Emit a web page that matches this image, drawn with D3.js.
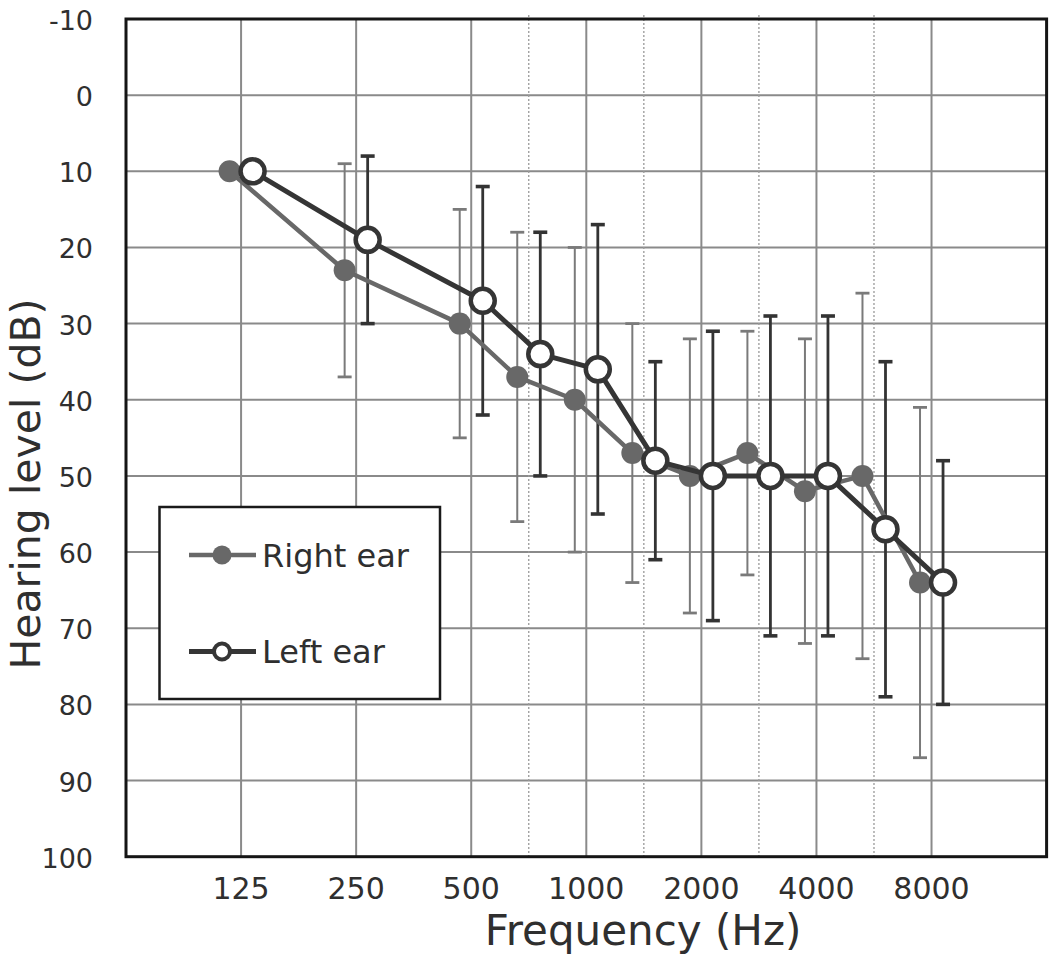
<!DOCTYPE html>
<html>
<head>
<meta charset="utf-8">
<script src="https://cdn.jsdelivr.net/npm/d3@7"></script>
<style>
  html, body { margin: 0; padding: 0; background: #fff; }
  svg { display: block; font-family: "DejaVu Sans", sans-serif; }
</style>
</head>
<body>
<svg id="chart" width="1050" height="961"></svg>
<script>
// ---- data ----
const frequencies = [125, 250, 500, 750, 1000, 1500, 2000, 3000, 4000, 6000, 8000];
const rightMean = [10, 23, 30, 37, 40, 47, 50, 47, 52, 50, 64];
const rightUpper = [null, 9, 15, 18, 20, 30, 32, 31, 32, 26, 41];
const rightLower = [null, 37, 45, 56, 60, 64, 68, 63, 72, 74, 87];
const leftMean = [10, 19, 27, 34, 36, 48, 50, 50, 50, 57, 64];
const leftUpper = [null, 8, 12, 18, 17, 35, 31, 29, 29, 35, 48];
const leftLower = [null, 30, 42, 50, 55, 61, 69, 71, 71, 79, 80];
const majorFreqs = [125, 250, 500, 1000, 2000, 4000, 8000];
const xTickLabels = ["125", "250", "500", "1000", "2000", "4000", "8000"];
const minorFreqs = [750, 1500, 3000, 6000];
const yTicks = [-10, 0, 10, 20, 30, 40, 50, 60, 70, 80, 90, 100];
const seriesNames = ["Right ear", "Left ear"];

// ---- layout ----
const svg = d3.select("#chart");
const L = 126, R = 1046.6, T = 19, B = 856.7;
const octave = f => Math.round(2 * Math.log2(f / 125)) / 2;
const x = d3.scaleLinear().domain([-1, 7]).range([L, R]);
const y = d3.scaleLinear().domain([-10, 100]).range([T, B]);

const gridColor = "#8a8a8a";
const textColor = "#2f2f2f";
const rightColor = "#686868";
const leftColor = "#353535";

// grid
const grid = svg.append("g");
grid.selectAll("line.h").data(yTicks.slice(1, -1)).join("line")
  .attr("x1", L).attr("x2", R).attr("y1", d => y(d)).attr("y2", d => y(d))
  .attr("stroke", gridColor).attr("stroke-width", 2);
grid.selectAll("line.v").data(majorFreqs).join("line")
  .attr("x1", d => x(octave(d))).attr("x2", d => x(octave(d)))
  .attr("y1", T).attr("y2", B)
  .attr("stroke", gridColor).attr("stroke-width", 2);
grid.selectAll("line.m").data(minorFreqs).join("line")
  .attr("x1", d => x(octave(d))).attr("x2", d => x(octave(d)))
  .attr("y1", T - 4).attr("y2", B)
  .attr("stroke", "#999").attr("stroke-width", 1.3).attr("stroke-dasharray", "2,2");

// border
svg.append("rect").attr("x", L).attr("y", T).attr("width", R - L).attr("height", B - T)
  .attr("fill", "none").attr("stroke", "#151515").attr("stroke-width", 3);

// y axis labels
svg.append("g").selectAll("text").data(yTicks).join("text")
  .attr("x", 93).attr("y", d => y(d) + 11)
  .attr("text-anchor", "end").attr("font-size", 27).attr("fill", textColor)
  .text(d => d);

// x axis labels
svg.append("g").selectAll("text").data(majorFreqs).join("text")
  .attr("x", d => x(octave(d))).attr("y", 899)
  .attr("text-anchor", "middle").attr("font-size", 30).attr("fill", textColor)
  .text((d, i) => xTickLabels[i]);

// titles
svg.append("text").attr("x", 643).attr("y", 945)
  .attr("text-anchor", "middle").attr("font-size", 42).attr("fill", textColor)
  .text("Frequency (Hz)");
svg.append("text").attr("transform", "translate(40,484) rotate(-90)")
  .attr("text-anchor", "middle").attr("font-size", 41).attr("fill", textColor)
  .text("Hearing level (dB)");

// series
const series = [
  { name: seriesNames[0], mean: rightMean, up: rightUpper, low: rightLower, shift: -0.1,
    color: rightColor, ebColor: "#7a7a7a", ebWidth: 2, lineWidth: 4.5, filled: true },
  { name: seriesNames[1], mean: leftMean, up: leftUpper, low: leftLower, shift: 0.1,
    color: leftColor, ebColor: "#333", ebWidth: 2.8, lineWidth: 5, filled: false }
];

// error bars
series.forEach(s => {
  const g = svg.append("g");
  const pts = frequencies.map((f, i) => ({ f, i })).filter(d => s.up[d.i] != null);
  const px = d => x(octave(d.f) + s.shift);
  g.selectAll("line.v").data(pts).join("line")
    .attr("x1", px).attr("x2", px)
    .attr("y1", d => y(s.up[d.i])).attr("y2", d => y(s.low[d.i]))
    .attr("stroke", s.ebColor).attr("stroke-width", s.ebWidth);
  ["up", "low"].forEach(k => {
    g.selectAll("line.c" + k).data(pts).join("line")
      .attr("x1", d => px(d) - 7).attr("x2", d => px(d) + 7)
      .attr("y1", d => y(s[k][d.i])).attr("y2", d => y(s[k][d.i]))
      .attr("stroke", s.ebColor).attr("stroke-width", s.ebWidth + 0.8);
  });
});

// lines and markers
series.forEach(s => {
  const data = frequencies.map((f, i) => ({ f, v: s.mean[i] }));
  const line = d3.line().x(d => x(octave(d.f) + s.shift)).y(d => y(d.v));
  svg.append("path").datum(data).attr("d", line)
    .attr("fill", "none").attr("stroke", s.color).attr("stroke-width", s.lineWidth)
    .attr("stroke-linejoin", "round");
  svg.append("g").selectAll("circle").data(data).join("circle")
    .attr("cx", d => x(octave(d.f) + s.shift)).attr("cy", d => y(d.v))
    .attr("r", s.filled ? 11 : 12)
    .attr("fill", s.filled ? s.color : "#fff")
    .attr("stroke", s.filled ? "none" : s.color)
    .attr("stroke-width", s.filled ? 0 : 4.5);
});

// legend
const lg = svg.append("g");
lg.append("rect").attr("x", 159.5).attr("y", 507).attr("width", 280.5).attr("height", 192)
  .attr("fill", "#fff").attr("stroke", "#1a1a1a").attr("stroke-width", 2.5);
const legendRows = [555, 651.5];
series.forEach((s, i) => {
  const yy = legendRows[i];
  lg.append("line").attr("x1", 189).attr("x2", 256).attr("y1", yy).attr("y2", yy)
    .attr("stroke", s.color).attr("stroke-width", s.lineWidth);
  lg.append("circle").attr("cx", 222).attr("cy", yy).attr("r", s.filled ? 9.5 : 8)
    .attr("fill", s.filled ? s.color : "#fff")
    .attr("stroke", s.filled ? "none" : s.color).attr("stroke-width", s.filled ? 0 : 4);
  lg.append("text").attr("x", 262).attr("y", yy + 11.5)
    .attr("font-size", 32).attr("fill", textColor).text(s.name);
});
</script>
</body>
</html>
